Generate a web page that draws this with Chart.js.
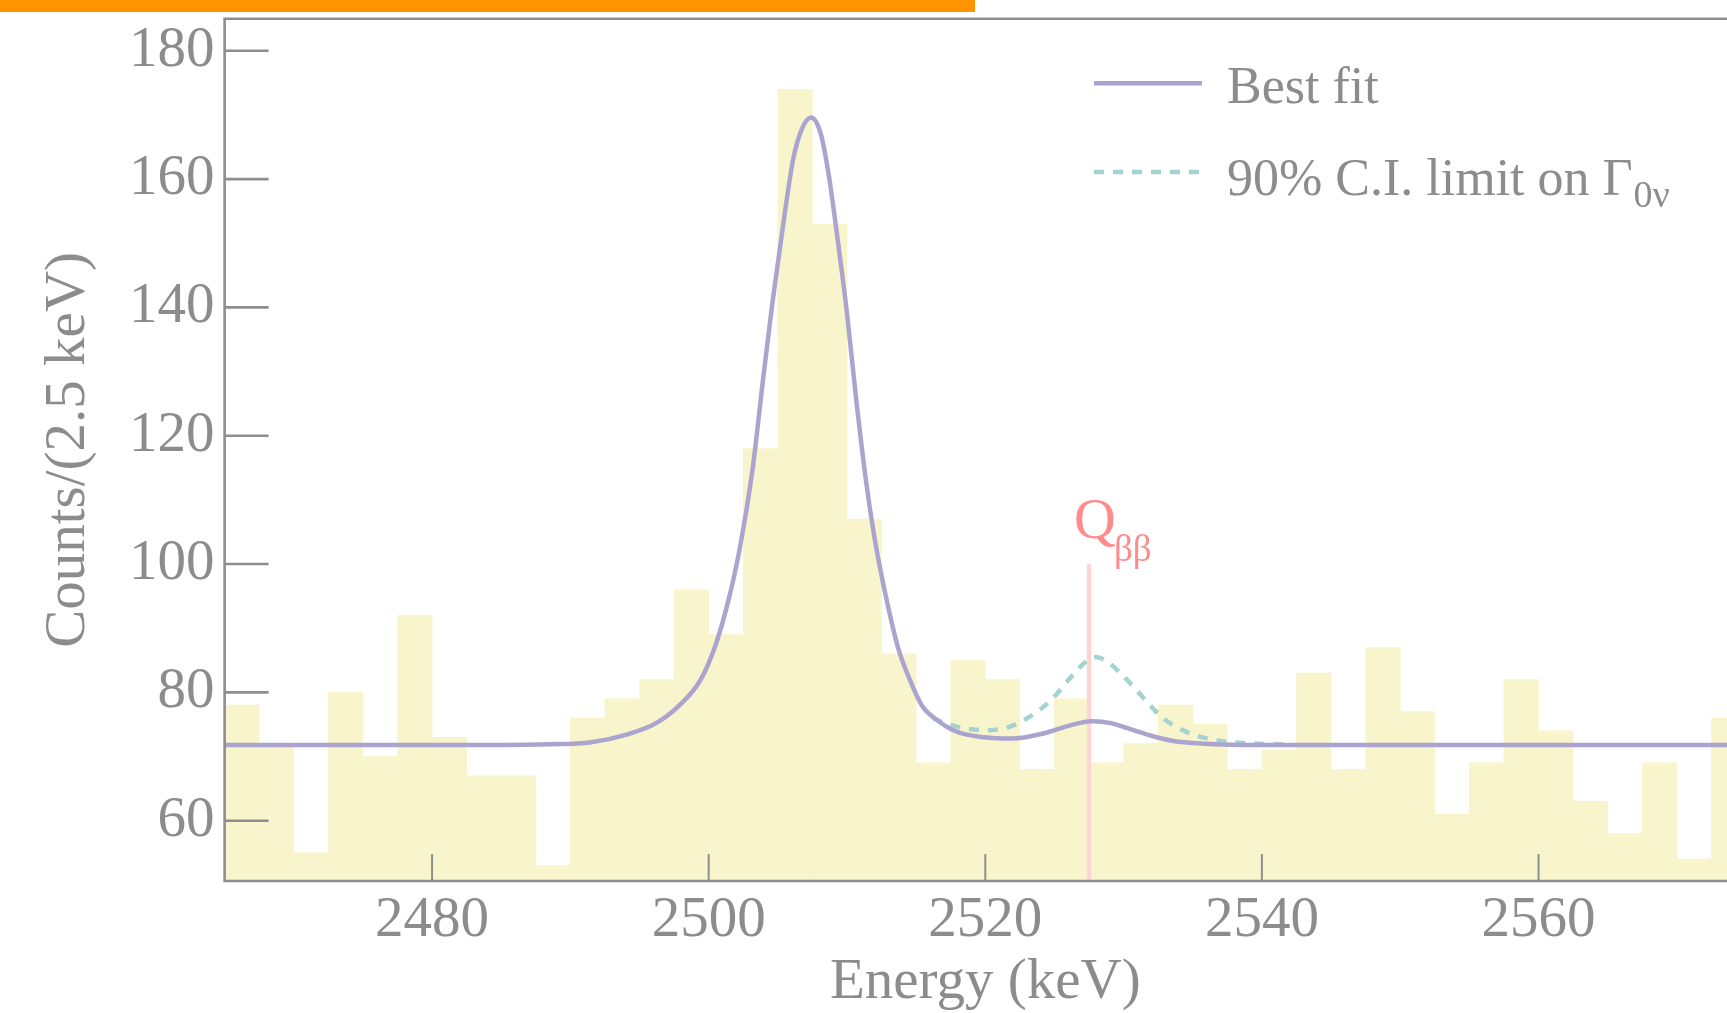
<!DOCTYPE html>
<html>
<head>
<meta charset="utf-8">
<script src="https://cdn.jsdelivr.net/npm/chart.js@4.4.1/dist/chart.umd.min.js"></script>
<style>
html,body{margin:0;padding:0;background:#fff;overflow:hidden;}
#wrap{position:relative;width:1746px;height:1013px;}
#topbar{position:absolute;left:0;top:0;width:975px;height:12px;background:#ff9400;z-index:2;}
canvas{display:block;}
</style>
</head>
<body>
<div id="wrap"><div id="topbar"></div><canvas id="c" width="1746" height="1013"></canvas></div>
<script>
/* ===== DATA ===== */
// histogram: 2.5 keV bins starting at 2465 keV
const BIN_START=2465, BIN_W=2.5;
const counts=[78,72,55,80,70,92,73,67,67,53,76,79,82,96,89,118,174,153,107,86,69,85,82,68,79,69,72,78,75,68,71,83,68,87,77,61,69,82,74,63,58,69,54,76];

// best fit curve
const fitE=[2465,2475,2485,2488.5,2491.4,2494.2,2496.2,2497.9,2499.4,2500.5,2501.4,2502.2,2503.2,2503.9,2504.6,2505.4,2506.1,2506.7,2507.4,2508.1,2508.7,2509.3,2510.0,2510.7,2511.4,2512.1,2512.9,2513.7,2514.5,2515.4,2516.5,2517.9,2519.9,2521.9,2524.2,2526.2,2527.7,2529.1,2530.0,2531.6,2533.4,2535.8,2540,2555,2575];
const fitY=[71.8,71.8,71.8,71.9,72.2,73.5,75.2,78.0,81.9,87.4,94.1,101.9,115.2,128.2,140.6,153.1,163.0,167.6,169.6,167.1,160.4,151.0,139.1,125.0,112.6,102.7,94.1,86.9,82.2,78.0,75.7,73.9,73.0,72.8,73.6,74.9,75.5,75.2,74.6,73.5,72.5,72.0,71.8,71.8,71.8];

// 90% C.I. limit curve
const ciE=[2516.2,2517.1,2518.5,2520.2,2521.7,2522.8,2523.9,2525.1,2526.2,2527.4,2528.0,2528.8,2530.0,2531.0,2531.9,2532.9,2534.0,2535.5,2537.5,2539.8,2541.8];
const ciY=[76.0,75.2,74.4,74.1,74.6,75.7,77.2,79.6,82.4,85.0,85.5,84.8,82.5,80.2,78.0,75.9,74.4,73.1,72.3,72.0,71.9];

const Q_BB=2527.5, Q_TOP=100;
const X_MIN=2465, X_MAX=2575, Y_MIN=50.6, Y_MAX=185;
const xTicks=[2480,2500,2520,2540,2560];
const yTicks=[60,80,100,120,140,160,180];
const legendItems=[['Best fit',''],['90% C.I. limit on \u0393','0\u03bd']];

/* ===== STYLE ===== */
const GREY='#8e8e8e', TXT='#8c8c8c';
const FONT="'Liberation Serif','Times New Roman',serif";

const pts=(xs,ys)=>xs.map((x,i)=>({x,y:ys[i]}));
const histPts=counts.map((c,i)=>({x:BIN_START+BIN_W*(i+0.5),y:c}));

/* ===== FRAME, INWARD TICKS, LABELS ===== */
const frame={
  id:'frame',
  afterDatasetsDraw(ch){
    const {ctx,chartArea:a,scales:{x,y}}=ch;
    const W=ch.width;
    ctx.save();
    ctx.strokeStyle=GREY;
    ctx.lineWidth=2.6;
    ctx.beginPath();
    ctx.moveTo(W,a.top);ctx.lineTo(a.left,a.top);ctx.lineTo(a.left,a.bottom);ctx.lineTo(W,a.bottom);
    ctx.stroke();
    yTicks.forEach(v=>{
      const p=y.getPixelForValue(v);
      ctx.beginPath();ctx.moveTo(a.left,p);ctx.lineTo(a.left+44,p);ctx.stroke();
    });
    ctx.lineWidth=2;
    xTicks.forEach(v=>{
      const p=x.getPixelForValue(v);
      ctx.beginPath();ctx.moveTo(p,a.bottom);ctx.lineTo(p,a.bottom-27);ctx.stroke();
    });

    // Q_bb label above the marker line
    const qx=x.getPixelForValue(Q_BB), qy=y.getPixelForValue(Q_TOP);
    ctx.fillStyle='#ff8c8c';
    ctx.textBaseline='alphabetic';ctx.textAlign='left';
    ctx.font='58px '+FONT;
    const ql=qx-15;
    ctx.fillText('Q',ql,qy-26);
    const qw=ctx.measureText('Q').width;
    ctx.font='37px '+FONT;
    ctx.fillText('\u03b2\u03b2',ql+qw-2,qy-3);

    // legend
    const rows=[{ly:83.3,base:103},{ly:172,base:195}];
    legendItems.forEach((it,i)=>{
      const ds=ch.data.datasets[i], r=rows[i];
      ctx.save();
      ctx.strokeStyle=ds.borderColor;ctx.lineWidth=ds.borderWidth;
      ctx.setLineDash(ds.borderDash||[]);
      ctx.beginPath();ctx.moveTo(1094,r.ly);ctx.lineTo(1202,r.ly);ctx.stroke();
      ctx.restore();
      ctx.fillStyle=TXT;
      ctx.font='52px '+FONT;
      ctx.fillText(it[0],1227,r.base);
      if(it[1]){
        const w=ctx.measureText(it[0]).width;
        ctx.font='38px '+FONT;
        ctx.fillText(it[1],1227+w+1,r.base+12);
      }
    });
    ctx.restore();
  }
};

/* ===== CHART ===== */
new Chart(document.getElementById('c'),{
  type:'bar',
  data:{datasets:[
    {type:'line',label:'Best fit',data:pts(fitE,fitY),borderColor:'#aaa4ce',borderWidth:4.5,
      pointRadius:0,cubicInterpolationMode:'monotone',fill:false,order:0},
    {type:'line',label:'90% C.I. limit',data:pts(ciE,ciY),borderColor:'#a2d3d1',borderWidth:4.5,
      borderDash:[10,9],pointRadius:0,cubicInterpolationMode:'monotone',fill:false,order:1},
    {type:'line',label:'Qbb',data:[{x:Q_BB,y:Q_TOP},{x:Q_BB,y:Y_MIN}],borderColor:'#ffd4d4',borderWidth:4.5,
      pointRadius:0,tension:0,fill:false,order:2},
    {type:'bar',label:'Data',data:histPts,backgroundColor:'#f8f5cc',borderWidth:0,
      barPercentage:1,categoryPercentage:1,order:3}
  ]},
  options:{
    responsive:false,animation:false,devicePixelRatio:1,
    layout:{padding:{top:18.7,left:0,right:0,bottom:0}},
    plugins:{legend:{display:false},tooltip:{enabled:false}},
    scales:{
      x:{type:'linear',min:X_MIN,max:X_MAX,offset:false,
        grid:{display:false,drawTicks:false},border:{display:false},
        afterBuildTicks:s=>{s.ticks=xTicks.map(v=>({value:v}));},
        afterFit:s=>{s.height=132;s.paddingLeft=0;s.paddingRight=0;},
        ticks:{color:TXT,font:{family:FONT,size:57},padding:6,maxRotation:0,autoSkip:false,callback:v=>String(v)},
        title:{display:true,text:'Energy (keV)',color:TXT,font:{family:FONT,size:57,lineHeight:1},padding:{top:0,bottom:1.5}}
      },
      y:{type:'linear',min:Y_MIN,max:Y_MAX,
        grid:{display:false,drawTicks:false},border:{display:false},
        afterBuildTicks:s=>{s.ticks=yTicks.map(v=>({value:v}));},
        afterFit:s=>{s.width=224.6;s.paddingTop=0;s.paddingBottom=0;},
        ticks:{color:TXT,font:{family:FONT,size:57},padding:10,autoSkip:false,callback:v=>String(v)},
        title:{display:true,text:'Counts/(2.5 keV)',color:TXT,font:{family:FONT,size:57,lineHeight:1},padding:{top:40.5,bottom:0}}
      }
    }
  },
  plugins:[frame]
});
</script>
</body>
</html>
